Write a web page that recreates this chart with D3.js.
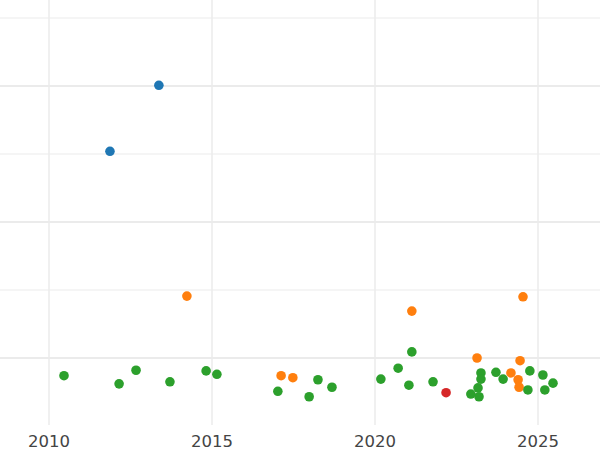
<!DOCTYPE html>
<html lang="en">
<head>
<meta charset="UTF-8">
<script src="https://d3js.org/d3.v7.min.js"></script>
<style>body{margin:0;background:#fff}</style>
</head>
<body>
<svg width="600" height="450"></svg>
<script>
const groups = ["a", "b", "c", "d"];
const colors = ["#1f77b4", "#ff7f0e", "#2ca02c", "#d62728"];
const xTicks = [2010, 2015, 2020, 2025];
const yTicks = [0, 1, 2, 3, 4, 5];

const years = [2013.37, 2011.87,
  2014.23, 2021.13, 2024.54, 2023.13, 2024.45, 2024.17, 2024.39, 2024.42, 2017.12, 2017.48,
  2022.18,
  2010.46, 2012.15, 2012.67, 2013.71, 2014.82, 2015.15, 2017.02, 2017.98, 2018.25, 2018.68,
  2020.18, 2020.71, 2021.13, 2021.04, 2021.78, 2022.94, 2023.19, 2023.16, 2023.25, 2023.25,
  2023.71, 2023.93, 2024.69, 2024.75, 2025.15, 2025.21, 2025.46];
const values = [4.01, 3.04,
  0.91, 0.69, 0.90, 0.00, -0.04, -0.22, -0.32, -0.43, -0.26, -0.29,
  -0.51,
  -0.26, -0.38, -0.18, -0.35, -0.19, -0.24, -0.49, -0.57, -0.32, -0.43,
  -0.31, -0.15, 0.09, -0.40, -0.35, -0.53, -0.57, -0.44, -0.22, -0.31,
  -0.21, -0.31, -0.47, -0.19, -0.25, -0.47, -0.37];
const groupOf = ["a", "a",
  "b", "b", "b", "b", "b", "b", "b", "b", "b", "b",
  "d",
  "c", "c", "c", "c", "c", "c", "c", "c", "c", "c",
  "c", "c", "c", "c", "c", "c", "c", "c", "c", "c",
  "c", "c", "c", "c", "c", "c", "c"];

const svg = d3.select("svg");
const x = d3.scaleLinear().domain([2010, 2025]).range([49, 538]);
const y = d3.scaleLinear().domain([0, 1]).range([358, 290]);
const color = d3.scaleOrdinal().domain(groups).range(colors);

const grid = svg.append("g");
grid.selectAll("line.v").data(xTicks).enter().append("line")
  .attr("x1", d => x(d)).attr("x2", d => x(d))
  .attr("y1", 0).attr("y2", 425)
  .attr("stroke", "#ebebeb").attr("stroke-width", 1.5);
grid.selectAll("line.h").data(yTicks).enter().append("line")
  .attr("x1", 0).attr("x2", 600)
  .attr("y1", d => y(d)).attr("y2", d => y(d))
  .attr("stroke", "#ebebeb").attr("stroke-width", d => d % 2 === 0 ? 2 : 1.2);
svg.append("line").attr("x1", 0).attr("x2", 600).attr("y1", y(5.5)).attr("y2", y(5.5))
  .attr("stroke", "#ebebeb").attr("stroke-width", 2);

svg.append("g").selectAll("text").data(xTicks).enter().append("text")
  .attr("x", d => x(d)).attr("y", 447)
  .attr("text-anchor", "middle")
  .attr("font-family", "DejaVu Sans").attr("font-size", 16.5).attr("fill", "#444")
  .text(d => d);

svg.append("g").selectAll("circle").data(years).enter().append("circle")
  .attr("cx", d => x(d))
  .attr("cy", (d, i) => y(values[i]))
  .attr("r", 4.8)
  .attr("fill", (d, i) => color(groupOf[i]));
</script>
</body>
</html>
